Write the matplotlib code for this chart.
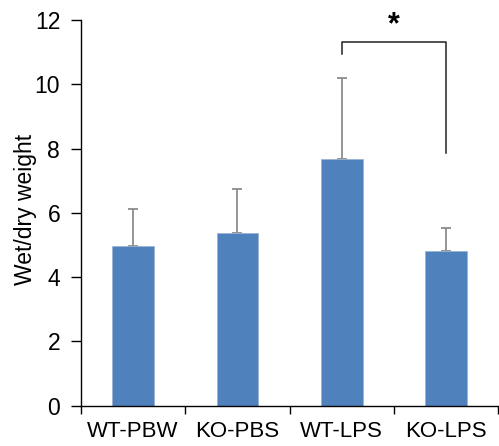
import matplotlib
matplotlib.use("Agg")
import matplotlib.pyplot as plt
import numpy as np

plt.rcParams['font.family'] = ['Liberation Sans', 'DejaVu Sans']

groups = ['WT-PBW', 'KO-PBS', 'WT-LPS', 'KO-LPS']
means = [4.98, 5.36, 7.67, 4.81]
sd = [1.14, 1.38, 2.52, 0.71]

# significance bracket between WT-LPS and KO-LPS
br_top = 11.33
br_left_end = 10.93
br_right_end = 7.85

fig = plt.figure(figsize=(4.99, 4.46), dpi=100)
ax = fig.add_axes([0.1623, 0.0904, 0.836, 0.8648])

x = np.arange(len(groups))
ax.bar(x, means, width=0.4, color='#4F81BD', edgecolor='#9DB3D3', linewidth=0.6, zorder=2)
ax.errorbar(x, means, yerr=[np.zeros(len(sd)), sd], fmt='none', ecolor='#8C8C8C',
            elinewidth=1.3, capsize=3.5, capthick=1.3, zorder=1)

ax.plot([2, 2, 3, 3], [br_left_end, br_top, br_top, br_right_end], color='#222222', lw=1.1)
ax.text(2.5, 11.83, '*', ha='center', va='center', fontsize=22, fontweight='bold')

ax.set_xlim(-0.5, 3.5)
ax.set_ylim(0, 12)
ax.set_yticks(range(0, 13, 2))
ax.set_xticks(np.arange(-0.5, 4, 1))
ax.set_xticklabels([])
ax.set_xticks(x, minor=True)
ax.set_xticklabels(groups, minor=True)
ax.tick_params(axis='x', which='minor', length=0, labelsize=16, pad=11)
ax.tick_params(axis='x', which='major', length=6, width=1, direction='out')
ax.tick_params(axis='y', length=7, width=1, labelsize=16.5, pad=8)
ax.set_ylabel('Wet/dry weight', fontsize=16.5)
ax.yaxis.set_label_coords(-0.106, 0.51)

for s in ['top', 'right']:
    ax.spines[s].set_visible(False)
ax.spines['left'].set_linewidth(1)
ax.spines['bottom'].set_linewidth(1)

fig.savefig('out.png', dpi=100)
